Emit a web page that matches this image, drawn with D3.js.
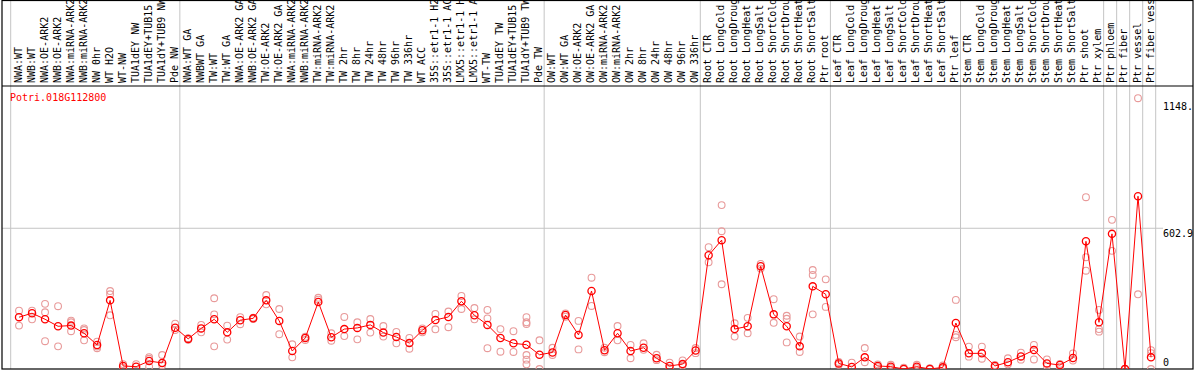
<!DOCTYPE html>
<html>
<head>
<meta charset="utf-8">
<script src="https://cdnjs.cloudflare.com/ajax/libs/d3/7.8.5/d3.min.js"></script>
<style>
  html, body { margin: 0; padding: 0; background: #fff; }
  svg { display: block; }
  text { font-family: "DejaVu Sans Mono", "Liberation Mono", monospace; font-size: 10px; }
</style>
</head>
<body>
<div id="chart"></div>
<script>
var geneName = "Potri.018G112800"

var categories = [
  "NWA:WT", "NWB:WT", "NWA:OE-ARK2", "NWB:OE-ARK2", "NWA:miRNA-ARK2", "NWB:miRNA-ARK2",
  "NW 0hr", "WT H2O", "WT-NW", "TUA1dEY NW", "TUA1dEY+TUB15", "TUA1dY+TUB9 NW", "Pde NW",
  "NWA:WT GA", "NWBWT GA", "TW:WT", "TW:WT GA", "NWA:OE-ARK2 GA", "NWB:OE-ARK2 GA",
  "TW:OE-ARK2", "TW:OE-ARK2 GA", "NWA:miRNA-ARK2", "NWB:miRNA-ARK2", "TW:miRNA-ARK2",
  "TW:miRNA-ARK2", "TW 2hr", "TW 8hr", "TW 24hr", "TW 48hr", "TW 96hr", "TW 336hr",
  "WT ACC", "35S::etr1-1 H2O", "35S::etr1-1 ACC", "LMX5::etr1-1 H2O", "LMX5::etr1-1 ACC",
  "WT-TW", "TUA1dEY TW", "TUA1dEY+TUB15", "TUA1dY+TUB9 TW", "Pde TW",
  "OW:WT", "OW:WT GA", "OW:OE-ARK2", "OW:OE-ARK2 GA", "OW:miRNA-ARK2", "OW:miRNA-ARK2",
  "OW 2hr", "OW 8hr", "OW 24hr", "OW 48hr", "OW 96hr", "OW 336hr",
  "Root CTR", "Root LongCold", "Root LongDrought", "Root LongHeat", "Root LongSalt",
  "Root ShortCold", "Root ShortDrought", "Root ShortHeat", "Root ShortSalt", "Ptr root",
  "Leaf CTR", "Leaf LongCold", "Leaf LongDrought", "Leaf LongHeat", "Leaf LongSalt",
  "Leaf ShortCold", "Leaf ShortDrought", "Leaf ShortHeat", "Leaf ShortSalt", "Ptr leaf",
  "Stem CTR", "Stem LongCold", "Stem LongDrought", "Stem LongHeat", "Stem LongSalt",
  "Stem ShortCold", "Stem ShortDrought", "Stem ShortHeat", "Stem ShortSalt", "Ptr shoot", "Ptr xylem",
  "Ptr phloem", "Ptr fiber", "Ptr vessel", "Ptr fiber vessel"
]

// number of categories in each experiment block (separated by grey lines)
var groupSizes = [13, 28, 12, 10, 10, 11, 1, 1, 1, 1]

var means = [
  222, 239, 213, 183, 186, 153, 103, 294, 13, 10, 34, 26, 177,
  129, 174, 213, 157, 209, 217, 294, 206, 77, 133, 287, 136, 171, 176, 189, 156, 137, 111,
  166, 210, 223, 290, 230, 189, 133, 110, 104, 61,
  71, 231, 146, 334, 80, 153, 77, 91, 46, 13, 21, 79,
  487, 552, 171, 183, 440, 234, 183, 97, 354, 320,
  24, 9, 50, 13, 10, 0, 10, 0, 7, 197,
  67, 67, 13, 29, 54, 81, 24, 17, 47, 547, 200,
  579, 0, 740, 50
]

var replicates = [
  [250, 186], [250, 213], [279, 243, 119], [269, 97], [207, 200, 162], [174, 167, 123],
  [117, 96, 89], [334, 320, 230], [21, 7], [21], [51, 44, 10], [60, 26, 16], [194, 167],
  [132, 125], [189, 157], [303, 234, 97], [186, 126], [222, 192], [220, 214], [317, 277],
  [257, 149], [106, 50], [138, 124], [305, 297], [153, 121], [223, 141], [200, 127],
  [214, 156], [184, 139], [159, 110], [133, 87], [174, 157], [236, 170], [246, 179],
  [313, 257], [261, 213], [253, 217, 89], [171, 74], [162, 73], [222, 200, 193, 60, 40, 20],
  [123, 0],
  [91, 60], [238, 224], [206, 84], [391, 270], [91, 72], [184, 123], [103, 46], [110, 82],
  [61, 38], [27, 5], [37, 15], [90, 68],
  [522, 457], [702, 590, 363], [196, 139], [219, 153], [450, 430], [299, 198],
  [228, 215, 114], [139, 73], [424, 403, 234], [384, 266],
  [30, 18], [27], [90, 29], [20, 8], [18, 4], [6, 0], [18, 4], [3, 0], [15, 2], [296, 146, 136],
  [96, 53], [96, 44], [17, 8], [46, 20], [70, 40], [103, 41], [41, 14], [22, 10], [67, 36],
  [736, 479, 421], [253, 171, 160],
  [639, 506], [0, 0], [1160, 320], [81, 68, 0]
]

var yTickValues = [0, 602.9, 1148]
var yTickLabels = ["0", "602.9", "1148."]

var width = 1194, height = 370
var frame = { left: 2, right: 1193, top: 0, header: 86, bottom: 369 }
var plotLeft = 10.7, plotRight = 1155.7

var svg = d3.select("#chart").append("svg")
  .attr("width", width)
  .attr("height", height)

var x = d3.scaleBand()
  .domain(d3.range(categories.length))
  .range([plotLeft, plotRight])
  .paddingInner(0).paddingOuter(0)

var pointOffset = x.step() * 0.64
function px(i) { return x(i) + pointOffset }

var y = d3.scaleLinear()
  .domain([0, 1148])
  .range([369, 101])

svg.append("defs").append("clipPath")
  .attr("id", "plot-clip")
  .append("rect")
    .attr("x", frame.left)
    .attr("y", frame.header)
    .attr("width", frame.right - frame.left)
    .attr("height", frame.bottom - frame.header)

// group separators
var boundaries = [0]
groupSizes.forEach(function (n) { boundaries.push(boundaries[boundaries.length - 1] + n) })
svg.append("g").selectAll("line")
  .data(boundaries)
  .enter().append("line")
    .attr("x1", function (b) { return b < categories.length ? x(b) : plotRight })
    .attr("x2", function (b) { return b < categories.length ? x(b) : plotRight })
    .attr("y1", frame.top)
    .attr("y2", frame.bottom)
    .attr("stroke", "#c4c4c4")
    .attr("stroke-width", 1)

// horizontal grid line
svg.append("line")
  .attr("x1", frame.left)
  .attr("x2", 1163)
  .attr("y1", y(yTickValues[1]))
  .attr("y2", y(yTickValues[1]))
  .attr("stroke", "#c4c4c4")
  .attr("stroke-width", 1)

// frame
svg.append("rect")
  .attr("x", frame.left)
  .attr("y", frame.top + 0.5)
  .attr("width", frame.right - frame.left)
  .attr("height", frame.bottom - frame.top - 0.5)
  .attr("fill", "none")
  .attr("stroke", "#000")
  .attr("stroke-width", 1.2)
svg.append("line")
  .attr("x1", frame.left).attr("x2", frame.right)
  .attr("y1", frame.header).attr("y2", frame.header)
  .attr("stroke", "#000")
  .attr("stroke-width", 1.2)

// category labels (rotated)
svg.append("g").selectAll("text")
  .data(categories)
  .enter().append("text")
    .attr("transform", function (d, i) { return "translate(" + (px(i) + 2.5) + ",83) rotate(-90)" })
    .attr("fill", "#000")
    .text(function (d) { return d })

// y labels
svg.append("g").selectAll("text")
  .data(yTickValues)
  .enter().append("text")
    .attr("x", 1163)
    .attr("y", function (v) { return Math.min(y(v) + 8.5, 366) })
    .attr("fill", "#000")
    .text(function (v, i) { return yTickLabels[i] })

var plot = svg.append("g").attr("clip-path", "url(#plot-clip)")

var reps = []
replicates.forEach(function (list, i) {
  list.forEach(function (v) { reps.push({ i: i, v: v }) })
})

plot.append("g").selectAll("circle")
  .data(reps)
  .enter().append("circle")
    .attr("cx", function (d) { return px(d.i) })
    .attr("cy", function (d) { return y(d.v) })
    .attr("r", 3.4)
    .attr("fill", "none")
    .attr("stroke", "#e89a9a")
    .attr("stroke-width", 1.1)

var line = d3.line()
  .x(function (d, i) { return px(i) })
  .y(function (d) { return y(d) })

plot.append("path")
  .datum(means)
  .attr("d", line)
  .attr("fill", "none")
  .attr("stroke", "#ff0000")
  .attr("stroke-width", 1)

plot.append("g").selectAll("circle")
  .data(means)
  .enter().append("circle")
    .attr("cx", function (d, i) { return px(i) })
    .attr("cy", function (d) { return y(d) })
    .attr("r", 3.6)
    .attr("fill", "none")
    .attr("stroke", "#ff0000")
    .attr("stroke-width", 1.3)

svg.append("text")
  .attr("x", 10)
  .attr("y", 101)
  .attr("fill", "#ff0000")
  .text(geneName)
</script>
</body>
</html>
